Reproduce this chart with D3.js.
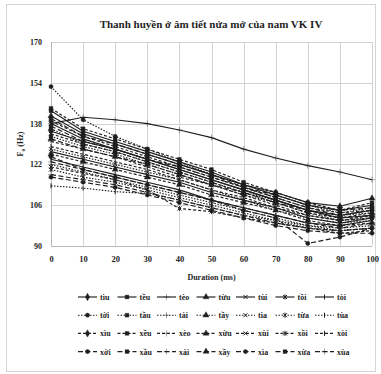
<!DOCTYPE html>
<html>
<head>
<meta charset="utf-8">
<script src="https://cdn.jsdelivr.net/npm/d3@7"></script>
<style>
  body { margin: 0; background: #fff; }
  svg { display: block; font-family: "Liberation Serif", "Times New Roman", serif; }
</style>
</head>
<body>
<div id="chart"></div>
<script>
// x values (ms)
const durations = [0, 10, 20, 30, 40, 50, 60, 70, 80, 90, 100];
const yTicks = [90, 106, 122, 138, 154, 170];

// legend order, 4 rows x 7 columns
const seriesNames = [
    'tìu', 'tều', 'tèo', 'từu', 'tùi', 'tồi', 'tòi',
    'tời', 'tầu', 'tài', 'tầy', 'tìa', 'từa', 'tùa',
    'xìu', 'xều', 'xèo', 'xừu', 'xùi', 'xồi', 'xòi',
    'xời', 'xầu', 'xài', 'xầy', 'xìa', 'xừa', 'xùa'
];

// F0 (Hz), one row per series
const f0Values = [
    [135, 131, 128, 124, 120, 116, 112, 108, 104, 102, 104],
    [143, 135, 131, 127, 123, 119, 114, 110, 106, 104, 106],
    [138, 140.5, 139.5, 138, 135.5, 132.5, 128, 124.5, 121.5, 119, 116],
    [141, 134, 130, 126, 122, 118, 114, 111, 107, 105.6, 108.7],
    [127, 124, 121, 118, 115, 111, 108, 105, 101, 99, 101],
    [138, 132, 128, 124, 120, 116, 112, 108, 104, 101, 102],
    [124, 121, 118, 115, 112, 108, 105, 102, 99, 98, 100],
    [152.5, 139.5, 133, 128, 123, 118, 114, 110, 106, 103, 105],
    [133, 129, 126, 122, 118, 114, 110, 107, 103, 100, 101],
    [122, 119, 116, 113, 110, 107, 104, 101, 98, 97, 98],
    [136, 130, 127, 123, 119, 115, 111, 108, 104, 102, 103],
    [128, 125, 122, 119, 116, 112, 108, 104, 101, 99, 100],
    [120, 117, 115, 112, 109, 106, 103, 100, 98, 96, 97],
    [113.6, 112.7, 111.3, 110.6, 108, 105, 102, 100, 97, 96, 97],
    [139, 133, 129, 125, 121, 117, 113, 109, 105, 103, 104],
    [144, 136, 132, 128, 124, 120, 115, 111, 107, 104, 107],
    [131, 128, 125, 121, 117, 114, 110, 106, 102, 100, 102],
    [126, 123, 120, 117, 114, 110, 107, 104, 100, 98, 99],
    [134, 130, 127, 123, 119, 115, 111, 107, 103, 101, 103],
    [121, 118.5, 116, 112, 104.7, 103.5, 101, 99, 97, 95, 96],
    [129, 126, 123, 120, 116, 112, 109, 105, 102, 100, 101],
    [125, 120, 117, 114, 111, 108, 104, 101, 91, 93.5, 97],
    [137, 131, 128, 124, 121, 117, 113, 109, 105, 102, 104],
    [123, 120, 117, 114, 111, 108, 105, 102, 99, 97, 99],
    [132, 128, 125, 122, 118, 114, 111, 107, 104, 101, 102],
    [117, 115, 113, 110, 107, 104, 101, 98, 96, 95, 95],
    [140, 133, 130, 126, 122, 118, 113, 110, 106, 104, 105],
    [118, 116, 114, 111, 108, 105, 102, 99, 97, 96, 97]
];

const width = 381, height = 374;
const margin = { top: 42, right: 9, bottom: 128, left: 51 };
const plotW = width - margin.left - margin.right;
const plotH = height - margin.top - margin.bottom;

// style per legend row / column
const dashes = [null, '1.5,1.5', '3,2', '5,2.5'];
const markerTypes = [
    ['diamond', 'square', 'plus', 'triangle', 'x', 'asterisk', 'bar'],
    ['circle', 'square', 'plus', 'triangle', 'x', 'asterisk', 'bar'],
    ['diamond', 'square', 'plus', 'triangle', 'x', 'asterisk', 'bar'],
    ['circle', 'square', 'plus', 'triangle', 'circle', 'square', 'plus']
];
const ink = '#1f1f1f';

function markerPath(type) {
    switch (type) {
        case 'diamond': return d3.symbol(d3.symbolDiamond, 16)();
        case 'square': return d3.symbol(d3.symbolSquare, 14)();
        case 'triangle': return d3.symbol(d3.symbolTriangle, 16)();
        case 'circle': return d3.symbol(d3.symbolCircle, 14)();
        case 'plus': return d3.symbol(d3.symbolPlus, 14)();
        case 'x': return 'M-2,-2L2,2M-2,2L2,-2';
        case 'asterisk': return 'M-2,-2L2,2M-2,2L2,-2M0,-2.5L0,2.5';
        case 'bar': return 'M0,-2.5L0,2.5';
    }
}
const strokeOnly = t => t === 'x' || t === 'asterisk' || t === 'bar';

const svg = d3.select('#chart').append('svg')
    .attr('width', width)
    .attr('height', height);

svg.append('rect')
    .attr('x', 6.5).attr('y', 4.5)
    .attr('width', 369).attr('height', 367)
    .attr('fill', '#fff')
    .attr('stroke', '#d4d4d4');

const x = d3.scaleLinear().domain([0, 100]).range([0, plotW]);
const y = d3.scaleLinear().domain([90, 170]).range([plotH, 0]);

const g = svg.append('g').attr('transform', `translate(${margin.left},${margin.top})`);

// grid
g.append('g')
    .selectAll('line')
    .data(yTicks)
    .join('line')
    .attr('x1', 0).attr('x2', plotW)
    .attr('y1', d => Math.round(y(d)) + 0.5).attr('y2', d => Math.round(y(d)) + 0.5)
    .attr('stroke', d => d === 90 ? '#b8b8b8' : '#d2d2d2');

g.append('g')
    .selectAll('line')
    .data(durations)
    .join('line')
    .attr('x1', d => Math.round(x(d)) + 0.5).attr('x2', d => Math.round(x(d)) + 0.5)
    .attr('y1', 0).attr('y2', plotH)
    .attr('stroke', d => d === 0 ? '#b8b8b8' : '#d2d2d2');

// axes
const xAxis = g.append('g')
    .attr('transform', `translate(0,${plotH})`)
    .call(d3.axisBottom(x).tickValues(durations).tickSize(0).tickPadding(10));
xAxis.select('.domain').remove();
xAxis.selectAll('text')
    .attr('font-family', '"Liberation Serif", serif')
    .attr('font-size', 8.5)
    .attr('font-weight', 'bold')
    .attr('fill', '#1f1f1f');

const yAxis = g.append('g')
    .call(d3.axisLeft(y).tickValues(yTicks).tickSize(0).tickPadding(9));
yAxis.select('.domain').remove();
yAxis.selectAll('text')
    .attr('font-family', '"Liberation Serif", serif')
    .attr('font-size', 8)
    .attr('font-weight', 'bold')
    .attr('fill', '#1f1f1f');

// series
const line = d3.line()
    .x((d, i) => x(durations[i]))
    .y(d => y(d));

const series = seriesNames.map((name, i) => ({
    name,
    values: f0Values[i],
    row: Math.floor(i / 7),
    col: i % 7
}));

const lines = g.append('g');
series.forEach(s => {
    lines.append('path')
        .datum(s.values)
        .attr('d', line)
        .attr('fill', 'none')
        .attr('stroke', ink)
        .attr('stroke-width', 1.15)
        .attr('stroke-dasharray', dashes[s.row]);
});

const marks = g.append('g');
series.forEach(s => {
    const type = markerTypes[s.row][s.col];
    marks.append('g')
        .selectAll('path')
        .data(s.values)
        .join('path')
        .attr('transform', (d, i) => `translate(${x(durations[i])},${y(d)})`)
        .attr('d', markerPath(type))
        .attr('fill', strokeOnly(type) ? 'none' : ink)
        .attr('stroke', ink)
        .attr('stroke-width', strokeOnly(type) ? 1 : 0.4);
});

// titles
svg.append('text')
    .attr('x', 211).attr('y', 28)
    .attr('text-anchor', 'middle')
    .attr('font-size', 11)
    .attr('font-weight', 'bold')
    .attr('fill', '#1f1f1f')
    .text('Thanh huyền ở âm tiết nửa mở của nam VK IV');

svg.append('text')
    .attr('x', margin.left + plotW / 2).attr('y', 280)
    .attr('text-anchor', 'middle')
    .attr('font-size', 8)
    .attr('font-weight', 'bold')
    .attr('fill', '#1f1f1f')
    .text('Duration (ms)');

const yt = svg.append('text')
    .attr('transform', `translate(23,${margin.top + plotH / 2}) rotate(-90)`)
    .attr('text-anchor', 'middle')
    .attr('font-size', 8)
    .attr('font-weight', 'bold')
    .attr('fill', '#1f1f1f');
yt.append('tspan').text('F');
yt.append('tspan').attr('font-size', 5.5).attr('dy', 2).text('o');
yt.append('tspan').attr('dy', -2).text(' (Hz)');

// legend
const legend = svg.append('g');
series.forEach(s => {
    const lx = 78 + s.col * 39.5;
    const ly = 297 + s.row * 18.2;
    const item = legend.append('g').attr('transform', `translate(${lx},${ly})`);
    item.append('line')
        .attr('x1', 0).attr('x2', 19)
        .attr('stroke', ink)
        .attr('stroke-width', 1.15)
        .attr('stroke-dasharray', dashes[s.row]);
    const type = markerTypes[s.row][s.col];
    item.append('path')
        .attr('transform', 'translate(9.5,0)')
        .attr('d', markerPath(type))
        .attr('fill', strokeOnly(type) ? 'none' : ink)
        .attr('stroke', ink)
        .attr('stroke-width', strokeOnly(type) ? 1 : 0.4);
    item.append('text')
        .attr('x', 22).attr('y', 3)
        .attr('font-size', 8)
        .attr('font-weight', 'bold')
        .attr('fill', '#1f1f1f')
        .text(s.name);
});
</script>
</body>
</html>
